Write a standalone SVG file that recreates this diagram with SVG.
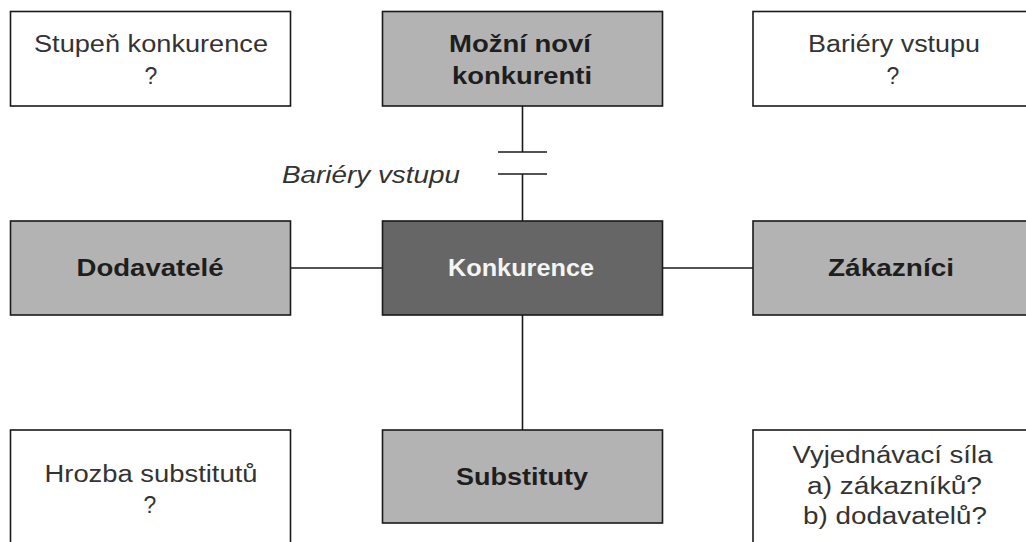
<svg xmlns="http://www.w3.org/2000/svg" width="1026" height="542" viewBox="0 0 1026 542">
<style>
.box{stroke:#1a1a1a;stroke-width:1.6}
.w{fill:#ffffff}
.g{fill:#b3b3b3}
.d{fill:#666666}
.t{font-family:"Liberation Sans",Arial,sans-serif;font-size:23px;text-anchor:middle;fill:#333333}
.b{font-weight:bold;fill:#1e1e1e}
.wt{fill:#f4f4f4}
.i{font-style:italic}
.c{stroke:#1a1a1a;stroke-width:1.6;fill:none}
</style>
<rect width="1026" height="542" fill="#ffffff"/>
<g id="connectors">
<line class="c" x1="522.5" y1="106" x2="522.5" y2="152"/>
<line class="c" x1="498" y1="152" x2="547" y2="152"/>
<line class="c" x1="498" y1="174" x2="547" y2="174"/>
<line class="c" x1="522.5" y1="174" x2="522.5" y2="221"/>
<line class="c" x1="290.5" y1="268" x2="382.5" y2="268"/>
<line class="c" x1="662.5" y1="268" x2="753" y2="268"/>
<line class="c" x1="522.5" y1="315" x2="522.5" y2="430"/>
<text class="t i" x="371" y="183" textLength="178" lengthAdjust="spacingAndGlyphs">Bariéry vstupu</text>
</g>
<g id="stupen">
<rect class="box w" x="10.5" y="11.5" width="280" height="94.5"/>
<text class="t" x="151" y="52" textLength="234" lengthAdjust="spacingAndGlyphs">Stupeň konkurence</text>
<text class="t" x="151" y="84">?</text>
</g>
<g id="novi">
<rect class="box g" x="382.5" y="11.5" width="280" height="94.5"/>
<text class="t b" x="520" y="52" textLength="142" lengthAdjust="spacingAndGlyphs">Možní noví</text>
<text class="t b" x="522" y="84" textLength="140" lengthAdjust="spacingAndGlyphs">konkurenti</text>
</g>
<g id="bariery">
<rect class="box w" x="753" y="11.5" width="280" height="94.5"/>
<text class="t" x="894" y="52" textLength="172" lengthAdjust="spacingAndGlyphs">Bariéry vstupu</text>
<text class="t" x="893" y="84">?</text>
</g>
<g id="dodavatele">
<rect class="box g" x="10.5" y="221" width="280" height="94"/>
<text class="t b" x="150" y="276" textLength="147" lengthAdjust="spacingAndGlyphs">Dodavatelé</text>
</g>
<g id="konkurence">
<rect class="box d" x="382.5" y="221" width="280" height="94"/>
<text class="t b wt" x="521" y="276" textLength="146" lengthAdjust="spacingAndGlyphs">Konkurence</text>
</g>
<g id="zakaznici">
<rect class="box g" x="753" y="221" width="280" height="94"/>
<text class="t b" x="891" y="276" textLength="126" lengthAdjust="spacingAndGlyphs">Zákazníci</text>
</g>
<g id="hrozba">
<rect class="box w" x="10.5" y="430" width="280" height="130"/>
<text class="t" x="151" y="482" textLength="213" lengthAdjust="spacingAndGlyphs">Hrozba substitutů</text>
<text class="t" x="150" y="513">?</text>
</g>
<g id="substituty">
<rect class="box g" x="382.5" y="430" width="280" height="93"/>
<text class="t b" x="522" y="485" textLength="132" lengthAdjust="spacingAndGlyphs">Substituty</text>
</g>
<g id="vyjednavaci">
<rect class="box w" x="753" y="430" width="280" height="130"/>
<text class="t" x="892.5" y="463" textLength="200" lengthAdjust="spacingAndGlyphs">Vyjednávací síla</text>
<text class="t" x="894.5" y="494" textLength="175" lengthAdjust="spacingAndGlyphs">a) zákazníků?</text>
<text class="t" x="895" y="524" textLength="184" lengthAdjust="spacingAndGlyphs">b) dodavatelů?</text>
</g>
</svg>
